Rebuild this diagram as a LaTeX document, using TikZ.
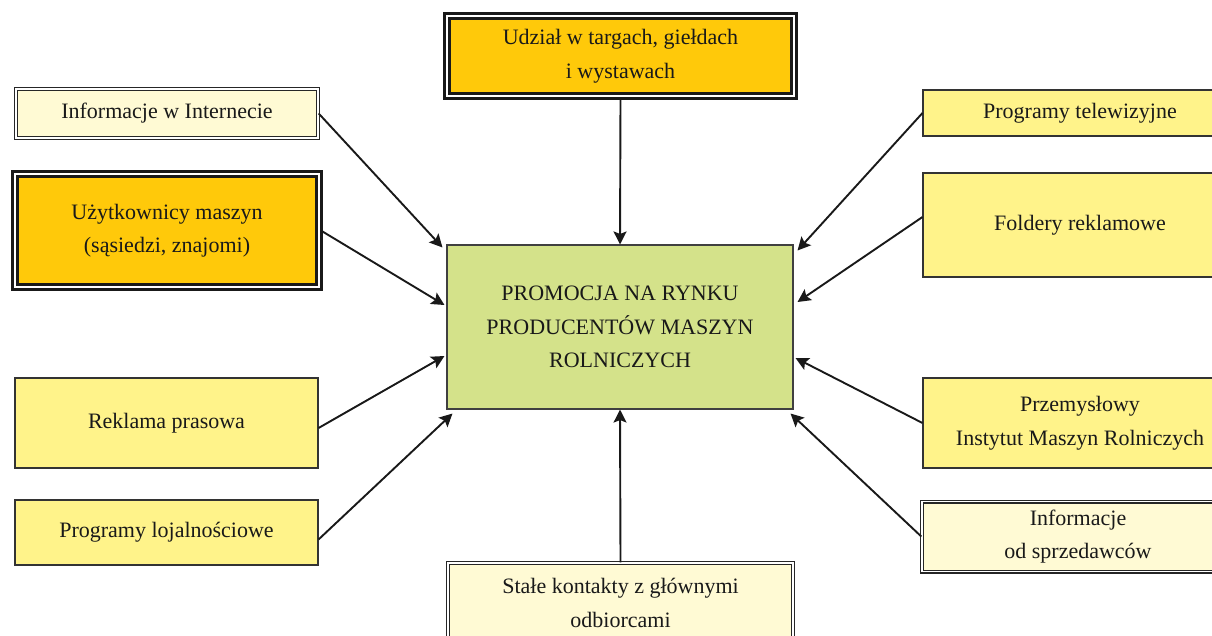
\documentclass[tikz,border=0pt]{standalone}
\usepackage{fontspec}
\setmainfont{Liberation Serif}
\usetikzlibrary{arrows.meta}
\usetikzlibrary{calc}

\definecolor{paleyellow}{HTML}{FFFAD4}
\definecolor{lightyellow}{HTML}{FFF38A}
\definecolor{deepyellow}{HTML}{FFC90A}
\definecolor{limegreen}{HTML}{D4E28A}

\begin{document}
\begin{tikzpicture}[x=1pt,y=-1pt]
\tikzset{box/.style={rectangle, inner sep=0pt, align=center, text=black!90,
        font=\fontsize{22}{33.5}\selectfont},
    plainbox/.style={box, draw=black!80, line width=1.05pt, fill=lightyellow},
    thinframe/.style={box, draw=black!85, line width=1.4pt, double=white,
        double distance=1.2pt, fill=paleyellow},
    heavyframe/.style={box, draw=black!90, line width=3.7pt, double=white,
        double distance=1.4pt, fill=deepyellow},
    feed/.style={draw=black!90, line width=1.9pt,
        -{Stealth[length=13pt,width=13pt,inset=2.5pt]}}
}
    % obszar rysunku
    \useasboundingbox (0,0) rectangle (1212,635);

    % srodek
    \node[box, draw=black!75, line width=1.05pt, fill=limegreen,
          minimum width=346, minimum height=164] (prom) at (620,327)
          {PROMOCJA NA RYNKU\\PRODUCENTÓW MASZYN\\ROLNICZYCH};

    % lewa strona
    \node[thinframe, minimum width=302, minimum height=49] (inet) at (167,113.5)
          {Informacje w Internecie};
    \node[heavyframe, minimum width=304, minimum height=113] (users) at (167,230.5)
          {Użytkownicy maszyn\\(sąsiedzi, znajomi)};
    \node[plainbox, minimum width=303, minimum height=90] (press) at (166.5,423)
          {Reklama prasowa};
    \node[plainbox, minimum width=303, minimum height=65] (loyal) at (166.5,532.5)
          {Programy lojalnościowe};

    % gora i dol
    \node[heavyframe, minimum width=347, minimum height=80] (fairs) at (620.5,56)
          {Udział w targach, giełdach\\i wystawach};
    \node[thinframe, minimum width=345, minimum height=80] (contacts) at (620.5,603)
          {Stałe kontakty z głównymi\\odbiorcami};

    % prawa strona
    \node[plainbox, minimum width=314, minimum height=46] (tv) at (1080,113)
          {Programy telewizyjne};
    \node[plainbox, minimum width=314, minimum height=104] (folders) at (1080,225)
          {Foldery reklamowe};
    \node[plainbox, minimum width=314, minimum height=90] (pimr) at (1080,423)
          {Przemysłowy\\Instytut Maszyn Rolniczych};
    \node[thinframe, minimum width=312, minimum height=70] (sellers) at (1078,536.5)
          {Informacje\\od sprzedawców};

    % strzalki
    \draw[feed] (inet.east) -- ($(prom.north west)+(-4,3)$);
    \draw[feed] (users.east) -- ($(prom.west)+(-2,-22)$);
    \draw[feed] ([yshift=-5pt]press.east) -- ($(prom.west)+(-2,29)$);
    \draw[feed] ([yshift=-7pt]loyal.east) -- ($(prom.south west)+(6,4)$);
    \draw[feed] (fairs.south) -- (prom.north);
    \draw[feed] (contacts.north) -- (prom.south);
    \draw[feed] (tv.west) -- ($(prom.north east)+(4,6)$);
    \draw[feed] ([yshift=8pt]folders.west) -- ($(prom.east)+(4,-25)$);
    \draw[feed] (pimr.west) -- ($(prom.east)+(2,31)$);
    \draw[feed] (sellers.west) -- ($(prom.south east)+(-3,4)$);

\end{tikzpicture}
\end{document}
